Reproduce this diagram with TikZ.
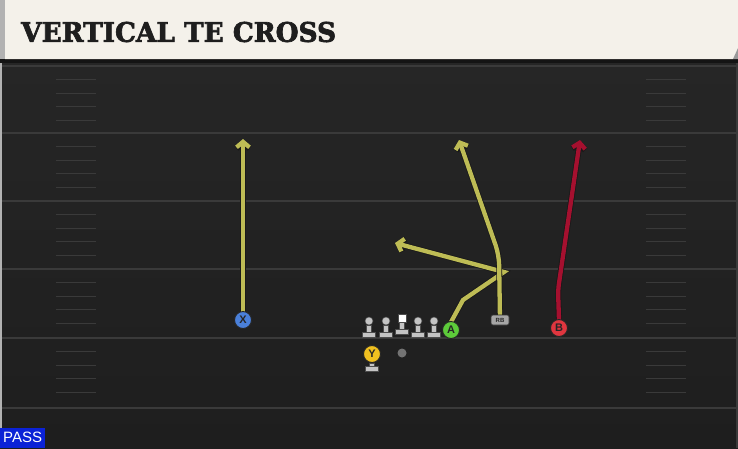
\documentclass[tikz,border=0pt]{standalone}
\usepackage{fontspec}
\setsansfont{Liberation Sans}
\newfontfamily\titlefont[BoldFeatures={FakeBold=2.5}]{DejaVu Serif}
\usetikzlibrary{positioning, arrows.meta}
\definecolor{fieldtop}{HTML}{262626}
\definecolor{fieldbot}{HTML}{1E1E1E}
\definecolor{yardline}{HTML}{3A3A3A}
\definecolor{headbg}{HTML}{F4F1EA}
\definecolor{titletext}{HTML}{1E1E1E}
\definecolor{routey}{HTML}{BEBC55}
\definecolor{router}{HTML}{A5102F}
\definecolor{xblue}{HTML}{4A80DA}
\definecolor{agreen}{HTML}{5DCB3A}
\definecolor{bred}{HTML}{E0363F}
\definecolor{yyellow}{HTML}{F0C020}
\definecolor{olgrey}{HTML}{C4C4C4}
\definecolor{passblue}{HTML}{0B22D6}
\tikzstyle{player} = [circle,draw=black!85,line width=.9pt,minimum size=17pt,inner sep=0pt,font=\sffamily\bfseries\fontsize{11}{11}\selectfont,text=black!85]
\tikzstyle{olhead} = [circle,fill=olgrey,draw=black!70,line width=.5pt,minimum size=8pt,inner sep=0pt]
\tikzstyle{olbody} = [fill=olgrey,draw=black!70,line width=.5pt]
\tikzstyle{route} = [line width=4.3pt,preaction={draw=black!90,line width=5.9pt},-{Straight Barb[length=5.5pt,width=13pt]}]
\tikzstyle{yard} = [draw=yardline,line width=2pt]
\tikzstyle{hash} = [draw=yardline,line width=1.2pt]

\begin{document}
\begin{tikzpicture}[x=1pt,y=-1pt]
		\useasboundingbox (0,0) rectangle (738,448);
		% field and header
		\shade[top color=fieldtop,bottom color=fieldbot] (0,59) rectangle (738,448);
		\fill[black!92] (0,59) rectangle (738,63);
		\fill[headbg] (5,0) -- (738,0) -- (738,48) -- (733,59) -- (5,59) -- cycle;
		\fill[black!40] (738,48) -- (738,59) -- (733,59) -- cycle;
		\fill[black!30] (0,0) rectangle (5,59);
		\fill[black!30] (0,63) rectangle (2,448);
		\fill[yardline] (736,63) rectangle (738,448);
		\node[anchor=west,inner sep=0pt,xscale=.975,text=titletext,font=\titlefont\bfseries\fontsize{27}{27}\selectfont] (title) at (21,32) {VERTICAL TE CROSS};
		
		\foreach \yl in {66,133,201,269,338,408}
			\draw[yard] (2,\yl) -- (736,\yl);
		\foreach \yl in {66,133,201,269,338}
			\foreach \k in {1,...,4}{
				\draw[hash] (56,{\yl+13.6*\k}) -- (96,{\yl+13.6*\k});
				\draw[hash] (646,{\yl+13.6*\k}) -- (686,{\yl+13.6*\k});
			}
		
		% route ends
		\coordinate (xend) at (243,139);
		\coordinate (a1) at (463,300);
		\coordinate (pivot) at (504,272);
		\coordinate (aend) at (395,243);
		\coordinate (rb1) at (499,255);
		\coordinate (rbend) at (459,140);
		\coordinate (b1) at (558,290);
		\coordinate (bend) at (580,140);
		
		% offense
		\node [olhead](ol1) at (369,321) {};
		\node [olhead](ol2) at (386,321) {};
		\node [fill=white,draw=black!70,line width=.5pt,minimum size=8.5pt,inner sep=0pt](c) at (402,318) {};
		\node [olhead](ol4) at (418,321) {};
		\node [olhead](ol5) at (434,321) {};
		\foreach \n in {ol1,ol2,c,ol4,ol5}{
			\draw[olbody] ([xshift=-2.5pt]\n.south) rectangle ++(5,7);
			\draw[olbody] ([xshift=-6.5pt,yshift=-7pt]\n.south) rectangle ++(13,5);
		}
		\node [circle,fill=black!55,minimum size=9pt,inner sep=0pt](ball) at (402,353) {};
		\node [player,fill=yyellow](y) at (372,354) {Y};
		\draw[olbody] ([xshift=-2.5pt]y.south) rectangle ++(5,3);
		\draw[olbody] ([xshift=-6.5pt,yshift=-3pt]y.south) rectangle ++(13,5);
		\node [rounded corners=2pt,fill=black!35,draw=black!80,line width=.6pt,minimum width=18pt,minimum height=10pt,inner sep=0pt,font=\sffamily\bfseries\fontsize{6}{6}\selectfont,text=black!85](rb) at (500,320) {RB};
		
		\draw[route,draw=routey](243,312)--(xend);
		\draw[route,draw=routey,line join=miter](451,322)--(a1)--(pivot)--(aend);
		\draw[route,draw=routey,rounded corners=10pt](rb)--(rb1)--(rbend);
		\draw[route,draw=router,rounded corners=6pt](559,320)--(b1)--(bend);
		
		\node [player,fill=xblue](x) at (243,320) {X};
		\node [player,fill=agreen](a) at (451,330) {A};
		\node [player,fill=bred](b) at (559,328) {B};
		
		\node [anchor=south west,fill=passblue,text=white,font=\sffamily\fontsize{15}{15}\selectfont,minimum width=45pt,minimum height=20pt,inner sep=0pt](pass) at (0,448) {PASS};
		\end{tikzpicture}
\end{document}
